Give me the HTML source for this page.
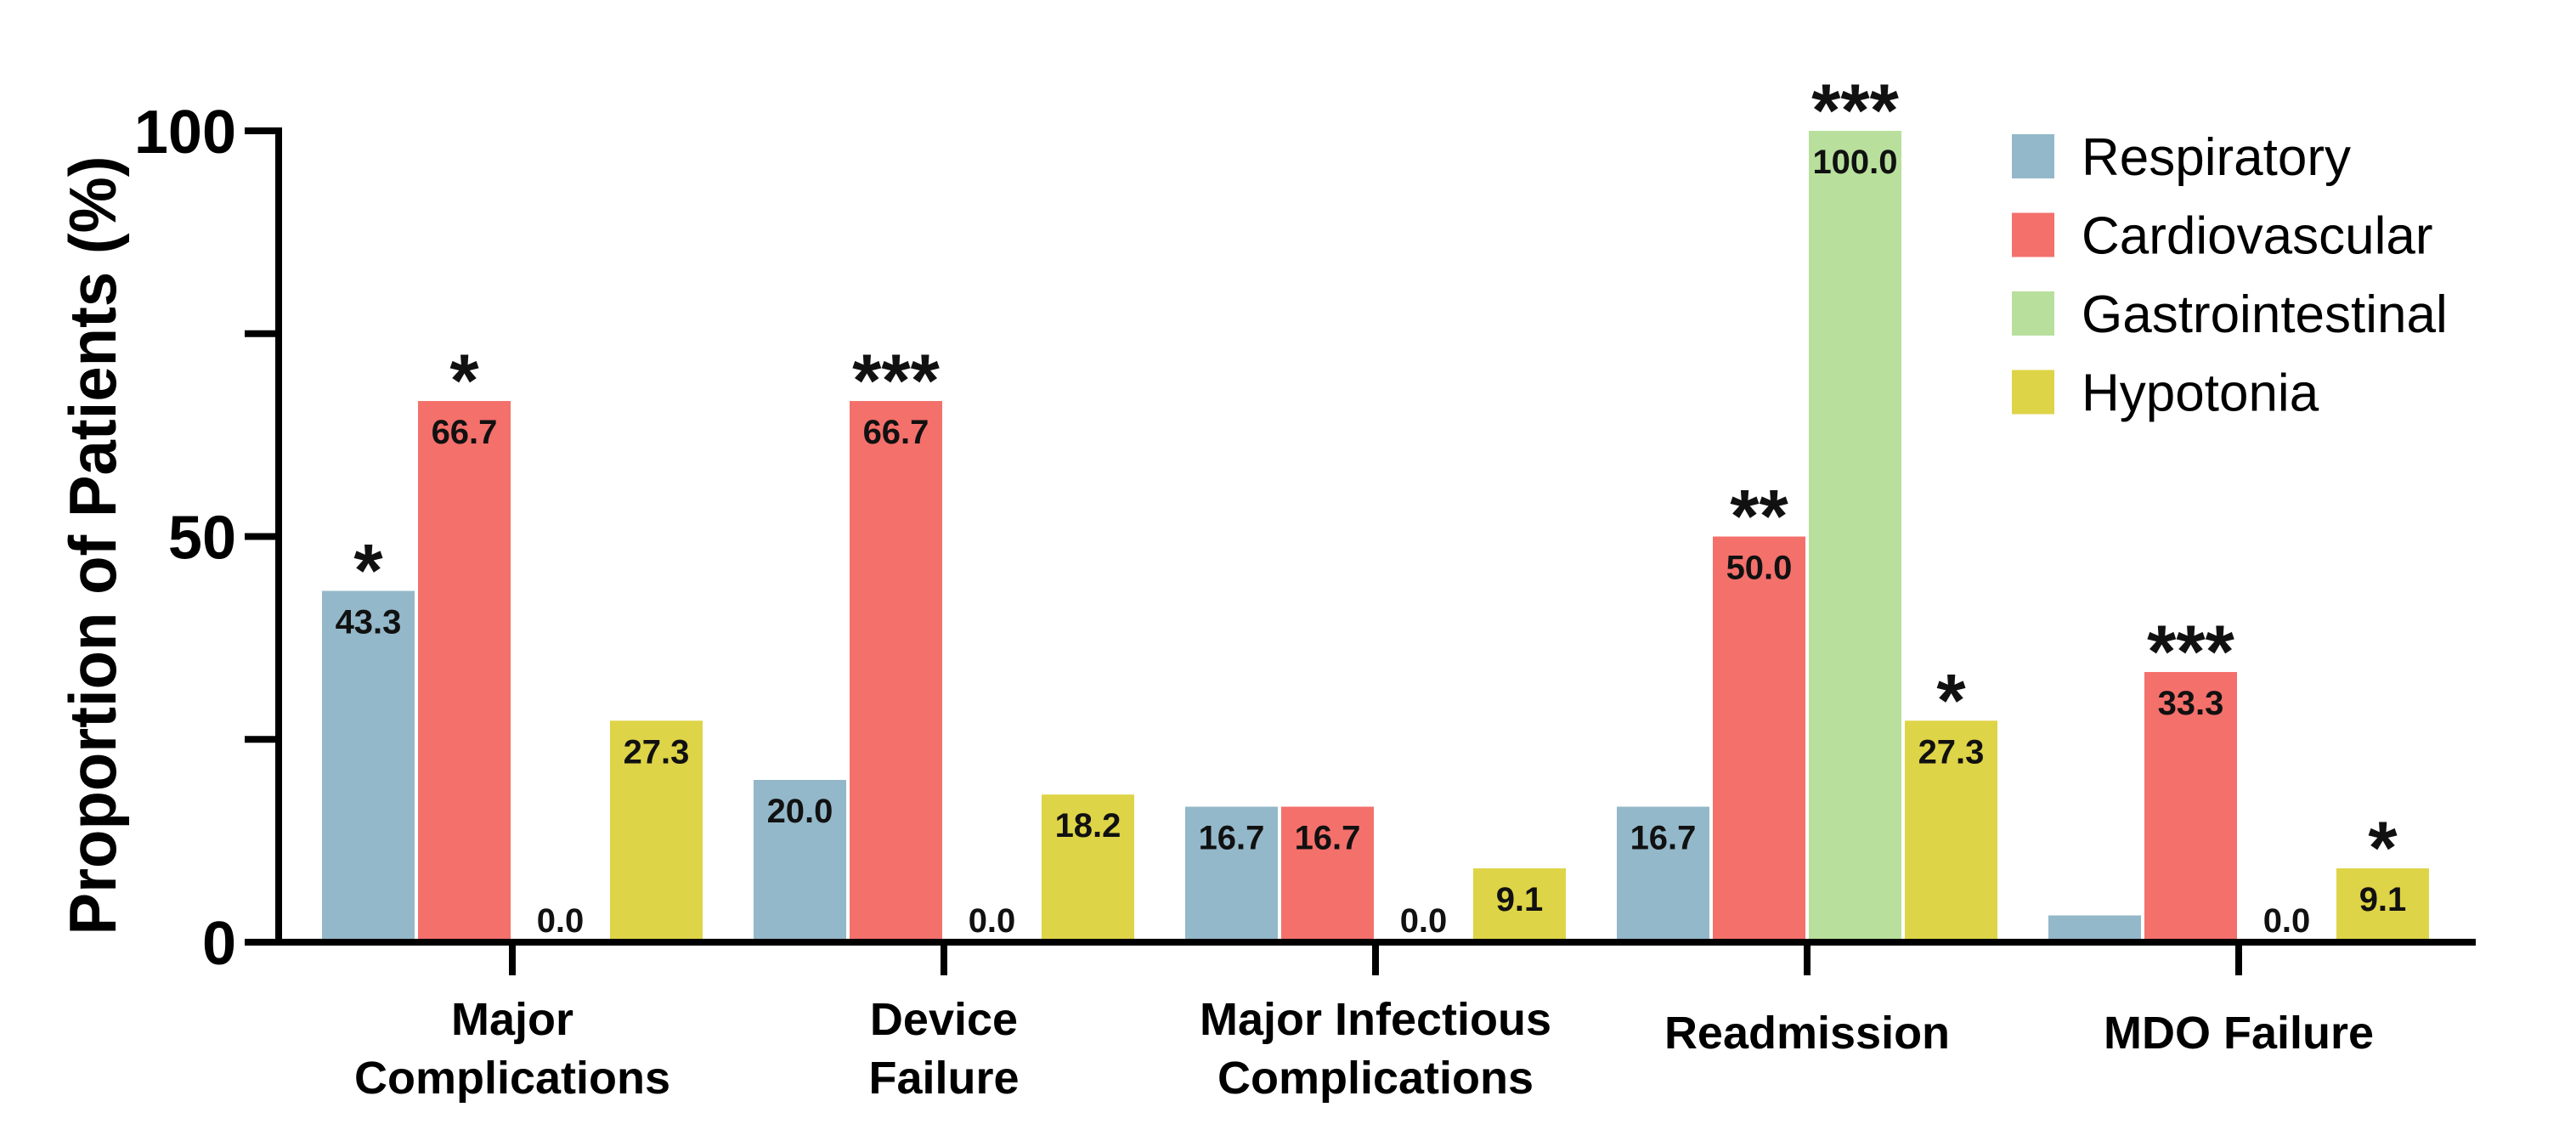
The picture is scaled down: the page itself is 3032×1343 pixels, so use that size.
<!DOCTYPE html>
<html><head><meta charset="utf-8"><style>
html,body{margin:0;padding:0;background:#fff;}
svg{display:block;font-family:"Liberation Sans",Arial,sans-serif;}
</style></head><body>
<svg id="chart" width="3032" height="1343" viewBox="0 0 3032 1343" xmlns="http://www.w3.org/2000/svg">
<rect width="3032" height="1343" fill="#fff"/>
<g id="bars"></g>
<g id="axes"></g>
<g id="legend"></g>
<text transform="translate(136,642) rotate(-90)" text-anchor="middle" font-size="78" font-weight="bold" textLength="917" lengthAdjust="spacingAndGlyphs">Proportion of Patients (%)</text>
</svg>
<script>
const categories = [["Major","Complications"],["Device","Failure"],["Major Infectious","Complications"],["Readmission"],["MDO Failure"]];
const seriesNames = ["Respiratory","Cardiovascular","Gastrointestinal","Hypotonia"];
const respiratory = [43.3, 20.0, 16.7, 16.7, 3.3];
const cardiovascular = [66.7, 66.7, 16.7, 50.0, 33.3];
const gastrointestinal = [0.0, 0.0, 0.0, 100.0, 0.0];
const hypotonia = [27.3, 18.2, 9.1, 27.3, 9.1];
const respStars = ["*","","","",""];
const cardioStars = ["*","***","","**","***"];
const giStars = ["","","","***",""];
const hypoStars = ["","","","*","*"];
const respShowLabel = [true,true,true,true,false];
const yTicks = [0,25,50,75,100];
const yTickLabels = ["0","","50","","100"];

const colors = ["#93b8c9","#f4706b","#b8e09c","#ded447"];
const NS = "http://www.w3.org/2000/svg";
const y0 = 1109, y100 = 154, axisX = 328;
const yScale = v => y0 - (y0 - y100) * v / 100;
const xCenter = i => 603 + i * 508;
const pitch = 113, barW = 109;
function mk(tag, attrs, parent, text){
  const e = document.createElementNS(NS, tag);
  for (const k in attrs) e.setAttribute(k, attrs[k]);
  if (text !== undefined) e.textContent = text;
  parent.appendChild(e); return e;
}
const series = [respiratory, cardiovascular, gastrointestinal, hypotonia];
const stars = [respStars, cardioStars, giStars, hypoStars];
const gBars = document.getElementById("bars");
categories.forEach((cat, i) => {
  series.forEach((vals, s) => {
    const v = vals[i];
    const cx = xCenter(i) + (s - 1.5) * pitch;
    const top = yScale(v);
    if (v > 0) {
      const r = mk("rect", {x: cx - barW/2, y: top, width: barW, height: y0 - top, fill: colors[s]}, gBars);
      
      
    }
    const show = !(s === 0 && !respShowLabel[i]);
    if (show) {
      const ly = v > 0 ? top + 50 : y0 - 12;
      const t = mk("text", {x: cx, y: ly, "text-anchor": "middle", "font-size": 40, "font-weight": "bold", fill: "#111"}, gBars, v.toFixed(1));
      
      
    }
    const st = stars[s][i];
    if (st) {
      const t = mk("text", {x: cx, y: top + 6, "text-anchor": "middle", "font-size": 88, "font-weight": "bold", fill: "#111"}, gBars, st);
      
      
    }
  });
});
const gAx = document.getElementById("axes");
let l = mk("line", {x1: axisX, y1: y100 - 4, x2: axisX, y2: y0 + 4, stroke: "#000", "stroke-width": 8}, gAx);
 
l = mk("line", {x1: axisX - 4, y1: y0, x2: 2914, y2: y0, stroke: "#000", "stroke-width": 8}, gAx);
 
yTicks.forEach((v, k) => {
  const y = yScale(v);
  const t = mk("line", {x1: 288, y1: y, x2: axisX, y2: y, stroke: "#000", "stroke-width": 8}, gAx);
   
  if (yTickLabels[k]) {
    const tx = mk("text", {x: 278, y: y + 26, "text-anchor": "end", "font-size": 72, "font-weight": "bold"}, gAx, yTickLabels[k]);
     
  }
});
categories.forEach((cat, i) => {
  const x = xCenter(i);
  const t = mk("line", {x1: x, y1: y0, x2: x, y2: 1148, stroke: "#000", "stroke-width": 8}, gAx);
   
  const base = cat.length === 1 ? 1234 : 1218;
  cat.forEach((line, j) => {
    const tx = mk("text", {x: x, y: base + j * 69, "text-anchor": "middle", "font-size": 54, "font-weight": "bold"}, gAx, line);
     
  });
});
const gL = document.getElementById("legend");
seriesNames.forEach((n, s) => {
  const cy = 184 + s * 92.5;
  const r = mk("rect", {x: 2368, y: cy - 26, width: 50, height: 52, fill: colors[s]}, gL);
   
  const t = mk("text", {x: 2450, y: cy + 22, "font-size": 62}, gL, n);
   
});
</script>
</body></html>
